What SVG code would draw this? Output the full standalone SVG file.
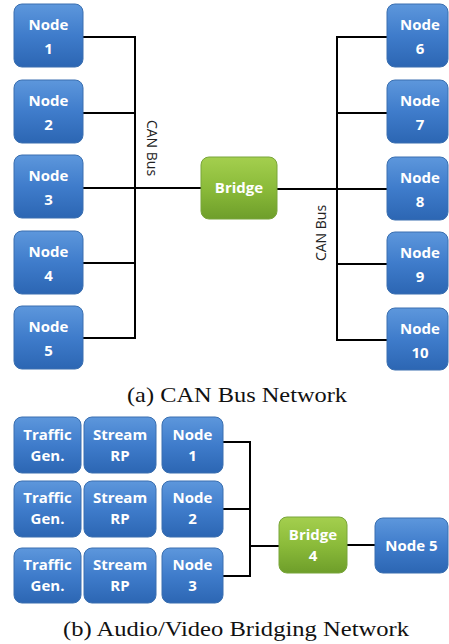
<svg xmlns="http://www.w3.org/2000/svg" width="449" height="644" viewBox="0 0 449 644">
<defs>
<linearGradient id="gb" x1="0" y1="0" x2="0" y2="1">
<stop offset="0" stop-color="#5d97dc"/>
<stop offset="0.5" stop-color="#3f7ccb"/>
<stop offset="1" stop-color="#2c66b3"/>
</linearGradient>
<linearGradient id="gg" x1="0" y1="0" x2="0" y2="1">
<stop offset="0" stop-color="#a4cf4e"/>
<stop offset="0.5" stop-color="#8bbb3a"/>
<stop offset="1" stop-color="#6e9e2a"/>
</linearGradient>
<style>
.b{fill:url(#gb);stroke:#3a6fb0;stroke-width:1}
.g{fill:url(#gg);stroke:#79a53a;stroke-width:1}
.t{font-family:"Open Sans","DejaVu Sans",sans-serif;font-weight:bold;font-size:15px;fill:#fff;text-anchor:middle}
.l{fill:none;stroke:#000;stroke-width:2}
.c{font-family:"Open Sans","Liberation Sans",sans-serif;font-size:14px;fill:#222;text-anchor:middle}
.cap{font-family:"Liberation Serif","Times New Roman",serif;font-size:21px;fill:#111;text-anchor:middle}
</style>
</defs>
<rect width="449" height="644" fill="#fff"/>
<g id="connectors">
<polyline class="l" points="83,37 135,37 135,338 83,338"/>
<line class="l" x1="83" y1="113" x2="135" y2="113"/>
<line class="l" x1="83" y1="188" x2="201" y2="188"/>
<line class="l" x1="83" y1="263" x2="135" y2="263"/>
<polyline class="l" points="387,37 337,37 337,340 387,340"/>
<line class="l" x1="387" y1="113" x2="337" y2="113"/>
<line class="l" x1="277" y1="189" x2="387" y2="189"/>
<line class="l" x1="387" y1="264" x2="337" y2="264"/>
<polyline class="l" points="223,442 250,442 250,576 223,576"/>
<line class="l" x1="223" y1="509" x2="250" y2="509"/>
<line class="l" x1="250" y1="546" x2="279" y2="546"/>
<line class="l" x1="347" y1="545" x2="375" y2="545"/>
<text class="c" transform="translate(147,148) rotate(90)">CAN Bus</text>
<text class="c" transform="translate(326,233) rotate(-90)">CAN Bus</text>
</g>
<g id="n1"><rect class="b" x="14" y="4" width="69" height="63" rx="8"/><text class="t" x="48.5" y="30">Node</text><text class="t" x="48.5" y="54">1</text></g>
<g id="n2"><rect class="b" x="14" y="80" width="69" height="63" rx="8"/><text class="t" x="48.5" y="106">Node</text><text class="t" x="48.5" y="130">2</text></g>
<g id="n3"><rect class="b" x="14" y="155" width="69" height="63" rx="8"/><text class="t" x="48.5" y="181">Node</text><text class="t" x="48.5" y="205">3</text></g>
<g id="n4"><rect class="b" x="14" y="231" width="69" height="63" rx="8"/><text class="t" x="48.5" y="257">Node</text><text class="t" x="48.5" y="281">4</text></g>
<g id="n5"><rect class="b" x="14" y="306" width="69" height="63" rx="8"/><text class="t" x="48.5" y="332">Node</text><text class="t" x="48.5" y="356">5</text></g>
<g id="bridge"><rect class="g" x="201" y="157" width="76" height="62" rx="8"/><text class="t" x="239" y="193">Bridge</text></g>
<g id="n6"><rect class="b" x="387" y="4" width="61" height="63" rx="8"/><text class="t" x="420" y="30">Node</text><text class="t" x="420" y="54">6</text></g>
<g id="n7"><rect class="b" x="387" y="80" width="61" height="63" rx="8"/><text class="t" x="420" y="106">Node</text><text class="t" x="420" y="130">7</text></g>
<g id="n8"><rect class="b" x="387" y="157" width="61" height="63" rx="8"/><text class="t" x="420" y="183">Node</text><text class="t" x="420" y="207">8</text></g>
<g id="n9"><rect class="b" x="387" y="232" width="61" height="62" rx="8"/><text class="t" x="420" y="258">Node</text><text class="t" x="420" y="282">9</text></g>
<g id="n10"><rect class="b" x="387" y="308" width="61" height="62" rx="8"/><text class="t" x="420" y="334">Node</text><text class="t" x="420" y="358">10</text></g>
<text class="cap" x="237" y="402" textLength="220" lengthAdjust="spacingAndGlyphs">(a) CAN Bus Network</text>
<g id="tg1"><rect class="b" x="14" y="417" width="67" height="56" rx="8"/><text class="t" x="47.5" y="440">Traffic</text><text class="t" x="47.5" y="461">Gen.</text></g>
<g id="sr1"><rect class="b" x="84" y="417" width="72" height="56" rx="8"/><text class="t" x="120" y="440">Stream</text><text class="t" x="120" y="461">RP</text></g>
<g id="b1"><rect class="b" x="162" y="417" width="61" height="56" rx="8"/><text class="t" x="192.5" y="440">Node</text><text class="t" x="192.5" y="461">1</text></g>
<g id="tg2"><rect class="b" x="14" y="481" width="67" height="56" rx="8"/><text class="t" x="47.5" y="503">Traffic</text><text class="t" x="47.5" y="524">Gen.</text></g>
<g id="sr2"><rect class="b" x="84" y="481" width="72" height="56" rx="8"/><text class="t" x="120" y="503">Stream</text><text class="t" x="120" y="524">RP</text></g>
<g id="b2"><rect class="b" x="162" y="481" width="61" height="56" rx="8"/><text class="t" x="192.5" y="503">Node</text><text class="t" x="192.5" y="524">2</text></g>
<g id="tg3"><rect class="b" x="14" y="548" width="67" height="55" rx="8"/><text class="t" x="47.5" y="570">Traffic</text><text class="t" x="47.5" y="591">Gen.</text></g>
<g id="sr3"><rect class="b" x="84" y="548" width="72" height="55" rx="8"/><text class="t" x="120" y="570">Stream</text><text class="t" x="120" y="591">RP</text></g>
<g id="b3"><rect class="b" x="162" y="548" width="61" height="55" rx="8"/><text class="t" x="192.5" y="570">Node</text><text class="t" x="192.5" y="591">3</text></g>
<g id="bridge4"><rect class="g" x="279" y="517" width="68" height="56" rx="8"/><text class="t" x="313" y="540">Bridge</text><text class="t" x="313" y="561">4</text></g>
<g id="node5"><rect class="b" x="375" y="518" width="73" height="55" rx="8"/><text class="t" x="411.5" y="551">Node 5</text></g>
<text class="cap" x="236" y="636" textLength="346" lengthAdjust="spacingAndGlyphs">(b) Audio/Video Bridging Network</text>
</svg>
